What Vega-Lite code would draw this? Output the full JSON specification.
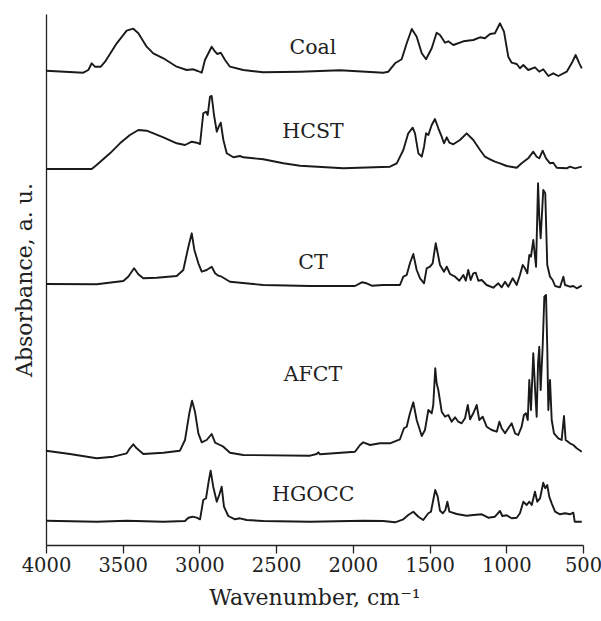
{
  "$schema": "https://vega.github.io/schema/vega-lite/v6.json",
  "width": 537,
  "height": 531,
  "autosize": {"type": "none"},
  "padding": {"left": 46, "top": 14, "right": 18, "bottom": 76},
  "background": "white",
  "config": {
    "view": {"stroke": null},
    "font": "DejaVu Serif",
    "axis": {"grid": false, "domainColor": "#222", "domainWidth": 1.3, "tickColor": "#222", "labelColor": "#222", "titleColor": "#222", "labelFont": "DejaVu Serif", "titleFont": "DejaVu Serif", "titleFontWeight": "normal"}
  },
  "datasets": {
    "spectra": [
      {"s":"Coal","wn":4000,"v":474.3},{"s":"Coal","wn":3757,"v":472.3},{"s":"Coal","wn":3724,"v":475},{"s":"Coal","wn":3702,"v":481.7},{"s":"Coal","wn":3681,"v":478.3},{"s":"Coal","wn":3643,"v":478.3},{"s":"Coal","wn":3615,"v":483.3},{"s":"Coal","wn":3539,"v":501.7},{"s":"Coal","wn":3474,"v":514.3},{"s":"Coal","wn":3431,"v":516.3},{"s":"Coal","wn":3398,"v":511.7},{"s":"Coal","wn":3344,"v":498.3},{"s":"Coal","wn":3301,"v":491.7},{"s":"Coal","wn":3235,"v":486.7},{"s":"Coal","wn":3148,"v":478.3},{"s":"Coal","wn":3083,"v":475},{"s":"Coal","wn":3040,"v":475.7},{"s":"Coal","wn":3011,"v":474},{"s":"Coal","wn":2985,"v":472.3},{"s":"Coal","wn":2964,"v":485},{"s":"Coal","wn":2920,"v":498.3},{"s":"Coal","wn":2898,"v":493.3},{"s":"Coal","wn":2883,"v":491},{"s":"Coal","wn":2861,"v":492.3},{"s":"Coal","wn":2833,"v":485},{"s":"Coal","wn":2801,"v":478.3},{"s":"Coal","wn":2714,"v":475},{"s":"Coal","wn":2584,"v":472.7},{"s":"Coal","wn":2344,"v":473.3},{"s":"Coal","wn":2084,"v":474.7},{"s":"Coal","wn":1802,"v":472.3},{"s":"Coal","wn":1769,"v":473.3},{"s":"Coal","wn":1725,"v":481.7},{"s":"Coal","wn":1682,"v":485.7},{"s":"Coal","wn":1649,"v":501.7},{"s":"Coal","wn":1616,"v":516},{"s":"Coal","wn":1584,"v":508.3},{"s":"Coal","wn":1551,"v":491.7},{"s":"Coal","wn":1523,"v":485.7},{"s":"Coal","wn":1486,"v":496.7},{"s":"Coal","wn":1454,"v":512.3},{"s":"Coal","wn":1432,"v":510},{"s":"Coal","wn":1399,"v":502.3},{"s":"Coal","wn":1378,"v":503.7},{"s":"Coal","wn":1345,"v":500},{"s":"Coal","wn":1280,"v":503.7},{"s":"Coal","wn":1215,"v":505},{"s":"Coal","wn":1171,"v":507.7},{"s":"Coal","wn":1139,"v":506.7},{"s":"Coal","wn":1106,"v":511},{"s":"Coal","wn":1074,"v":511.7},{"s":"Coal","wn":1041,"v":521.7},{"s":"Coal","wn":1015,"v":513.3},{"s":"Coal","wn":987,"v":488.3},{"s":"Coal","wn":965,"v":482.3},{"s":"Coal","wn":932,"v":481},{"s":"Coal","wn":911,"v":476.7},{"s":"Coal","wn":889,"v":480},{"s":"Coal","wn":857,"v":475},{"s":"Coal","wn":813,"v":477.7},{"s":"Coal","wn":785,"v":473.3},{"s":"Coal","wn":759,"v":475.7},{"s":"Coal","wn":726,"v":469},{"s":"Coal","wn":694,"v":471.7},{"s":"Coal","wn":661,"v":469},{"s":"Coal","wn":606,"v":473.3},{"s":"Coal","wn":574,"v":481.7},{"s":"Coal","wn":548,"v":490},{"s":"Coal","wn":524,"v":481.7},{"s":"Coal","wn":508,"v":476.7},

      {"s":"HCST","wn":4000,"v":376},{"s":"HCST","wn":3702,"v":376},{"s":"HCST","wn":3670,"v":380},{"s":"HCST","wn":3583,"v":391.7},{"s":"HCST","wn":3518,"v":401.7},{"s":"HCST","wn":3453,"v":410},{"s":"HCST","wn":3398,"v":415},{"s":"HCST","wn":3344,"v":414.3},{"s":"HCST","wn":3235,"v":407.7},{"s":"HCST","wn":3148,"v":401.7},{"s":"HCST","wn":3094,"v":400},{"s":"HCST","wn":3050,"v":403.3},{"s":"HCST","wn":3018,"v":402.3},{"s":"HCST","wn":2996,"v":401},{"s":"HCST","wn":2975,"v":431.7},{"s":"HCST","wn":2957,"v":433.3},{"s":"HCST","wn":2946,"v":430},{"s":"HCST","wn":2931,"v":448.3},{"s":"HCST","wn":2920,"v":449},{"s":"HCST","wn":2905,"v":430},{"s":"HCST","wn":2887,"v":413.3},{"s":"HCST","wn":2874,"v":418.3},{"s":"HCST","wn":2861,"v":422.3},{"s":"HCST","wn":2844,"v":405},{"s":"HCST","wn":2822,"v":391.7},{"s":"HCST","wn":2779,"v":387.7},{"s":"HCST","wn":2736,"v":389},{"s":"HCST","wn":2714,"v":387.7},{"s":"HCST","wn":2584,"v":385.7},{"s":"HCST","wn":2453,"v":381.7},{"s":"HCST","wn":2344,"v":379.3},{"s":"HCST","wn":2062,"v":376.7},{"s":"HCST","wn":1758,"v":378.3},{"s":"HCST","wn":1714,"v":381.7},{"s":"HCST","wn":1671,"v":395},{"s":"HCST","wn":1639,"v":411.7},{"s":"HCST","wn":1610,"v":417.3},{"s":"HCST","wn":1595,"v":411.7},{"s":"HCST","wn":1573,"v":391.7},{"s":"HCST","wn":1551,"v":388.3},{"s":"HCST","wn":1536,"v":398.3},{"s":"HCST","wn":1523,"v":411.7},{"s":"HCST","wn":1508,"v":410},{"s":"HCST","wn":1486,"v":420},{"s":"HCST","wn":1465,"v":426},{"s":"HCST","wn":1443,"v":416.7},{"s":"HCST","wn":1421,"v":408.3},{"s":"HCST","wn":1406,"v":401.7},{"s":"HCST","wn":1388,"v":407.7},{"s":"HCST","wn":1371,"v":402.3},{"s":"HCST","wn":1345,"v":400.7},{"s":"HCST","wn":1302,"v":405},{"s":"HCST","wn":1258,"v":411.7},{"s":"HCST","wn":1215,"v":405},{"s":"HCST","wn":1171,"v":395},{"s":"HCST","wn":1139,"v":388.3},{"s":"HCST","wn":1106,"v":385.7},{"s":"HCST","wn":1074,"v":383.3},{"s":"HCST","wn":1041,"v":381.7},{"s":"HCST","wn":997,"v":379},{"s":"HCST","wn":932,"v":377.3},{"s":"HCST","wn":900,"v":381.7},{"s":"HCST","wn":857,"v":386.7},{"s":"HCST","wn":824,"v":393.3},{"s":"HCST","wn":802,"v":388.3},{"s":"HCST","wn":785,"v":386.7},{"s":"HCST","wn":763,"v":394.3},{"s":"HCST","wn":741,"v":386.7},{"s":"HCST","wn":715,"v":381.7},{"s":"HCST","wn":694,"v":382.3},{"s":"HCST","wn":671,"v":377.3},{"s":"HCST","wn":606,"v":376.7},{"s":"HCST","wn":585,"v":378.3},{"s":"HCST","wn":552,"v":376.7},{"s":"HCST","wn":508,"v":378.3},

      {"s":"CT","wn":4000,"v":261},{"s":"CT","wn":3670,"v":260.7},{"s":"CT","wn":3496,"v":264},{"s":"CT","wn":3464,"v":268.3},{"s":"CT","wn":3426,"v":276.7},{"s":"CT","wn":3398,"v":270.7},{"s":"CT","wn":3366,"v":266.7},{"s":"CT","wn":3278,"v":267.3},{"s":"CT","wn":3148,"v":269},{"s":"CT","wn":3105,"v":275},{"s":"CT","wn":3072,"v":298.3},{"s":"CT","wn":3050,"v":311.7},{"s":"CT","wn":3033,"v":295},{"s":"CT","wn":3007,"v":281.7},{"s":"CT","wn":2985,"v":273.3},{"s":"CT","wn":2953,"v":275},{"s":"CT","wn":2920,"v":278.3},{"s":"CT","wn":2898,"v":271.7},{"s":"CT","wn":2877,"v":269.3},{"s":"CT","wn":2855,"v":268.3},{"s":"CT","wn":2801,"v":263.3},{"s":"CT","wn":2584,"v":260},{"s":"CT","wn":2279,"v":259},{"s":"CT","wn":1986,"v":259},{"s":"CT","wn":1942,"v":262.7},{"s":"CT","wn":1910,"v":261.7},{"s":"CT","wn":1877,"v":259.3},{"s":"CT","wn":1802,"v":260},{"s":"CT","wn":1693,"v":260},{"s":"CT","wn":1671,"v":268.3},{"s":"CT","wn":1649,"v":270},{"s":"CT","wn":1628,"v":281.7},{"s":"CT","wn":1606,"v":291},{"s":"CT","wn":1584,"v":275},{"s":"CT","wn":1562,"v":266.7},{"s":"CT","wn":1536,"v":261.7},{"s":"CT","wn":1519,"v":276.7},{"s":"CT","wn":1497,"v":278.3},{"s":"CT","wn":1480,"v":281.7},{"s":"CT","wn":1460,"v":301.7},{"s":"CT","wn":1447,"v":291.7},{"s":"CT","wn":1432,"v":280},{"s":"CT","wn":1406,"v":273.3},{"s":"CT","wn":1388,"v":278.3},{"s":"CT","wn":1367,"v":271},{"s":"CT","wn":1334,"v":268.3},{"s":"CT","wn":1306,"v":264.3},{"s":"CT","wn":1280,"v":270},{"s":"CT","wn":1264,"v":264.3},{"s":"CT","wn":1248,"v":275},{"s":"CT","wn":1232,"v":265},{"s":"CT","wn":1215,"v":271.7},{"s":"CT","wn":1199,"v":272.3},{"s":"CT","wn":1182,"v":264.3},{"s":"CT","wn":1160,"v":265},{"s":"CT","wn":1128,"v":260},{"s":"CT","wn":1085,"v":257.3},{"s":"CT","wn":1052,"v":261.7},{"s":"CT","wn":1030,"v":257.7},{"s":"CT","wn":1008,"v":263.3},{"s":"CT","wn":987,"v":258.3},{"s":"CT","wn":958,"v":266.7},{"s":"CT","wn":932,"v":260},{"s":"CT","wn":911,"v":270},{"s":"CT","wn":893,"v":280},{"s":"CT","wn":878,"v":276.7},{"s":"CT","wn":863,"v":271.7},{"s":"CT","wn":850,"v":290},{"s":"CT","wn":839,"v":288.3},{"s":"CT","wn":824,"v":305},{"s":"CT","wn":806,"v":278.3},{"s":"CT","wn":793,"v":361.7},{"s":"CT","wn":785,"v":328.3},{"s":"CT","wn":776,"v":306.7},{"s":"CT","wn":759,"v":355},{"s":"CT","wn":746,"v":351.7},{"s":"CT","wn":733,"v":280},{"s":"CT","wn":715,"v":268.3},{"s":"CT","wn":698,"v":265},{"s":"CT","wn":682,"v":259},{"s":"CT","wn":650,"v":257.7},{"s":"CT","wn":628,"v":268.3},{"s":"CT","wn":617,"v":260},{"s":"CT","wn":585,"v":258.3},{"s":"CT","wn":563,"v":259},{"s":"CT","wn":541,"v":256.7},{"s":"CT","wn":508,"v":259.3},

      {"s":"AFCT","wn":4000,"v":94.3},{"s":"AFCT","wn":3844,"v":91},{"s":"AFCT","wn":3670,"v":86.7},{"s":"AFCT","wn":3561,"v":88.3},{"s":"AFCT","wn":3474,"v":91.7},{"s":"AFCT","wn":3453,"v":96.7},{"s":"AFCT","wn":3431,"v":100.7},{"s":"AFCT","wn":3409,"v":96.7},{"s":"AFCT","wn":3366,"v":91},{"s":"AFCT","wn":3235,"v":92.3},{"s":"AFCT","wn":3127,"v":94.3},{"s":"AFCT","wn":3094,"v":105},{"s":"AFCT","wn":3066,"v":131.7},{"s":"AFCT","wn":3048,"v":144.3},{"s":"AFCT","wn":3029,"v":133.3},{"s":"AFCT","wn":3007,"v":111.7},{"s":"AFCT","wn":2985,"v":102.7},{"s":"AFCT","wn":2953,"v":105},{"s":"AFCT","wn":2920,"v":111},{"s":"AFCT","wn":2898,"v":102.3},{"s":"AFCT","wn":2866,"v":100},{"s":"AFCT","wn":2844,"v":98.3},{"s":"AFCT","wn":2801,"v":92.3},{"s":"AFCT","wn":2714,"v":90},{"s":"AFCT","wn":2279,"v":89.3},{"s":"AFCT","wn":2236,"v":91},{"s":"AFCT","wn":2225,"v":92.7},{"s":"AFCT","wn":2214,"v":90.7},{"s":"AFCT","wn":1986,"v":93.3},{"s":"AFCT","wn":1953,"v":100},{"s":"AFCT","wn":1932,"v":102.7},{"s":"AFCT","wn":1888,"v":100},{"s":"AFCT","wn":1823,"v":101.7},{"s":"AFCT","wn":1758,"v":101.7},{"s":"AFCT","wn":1693,"v":105.7},{"s":"AFCT","wn":1667,"v":116.7},{"s":"AFCT","wn":1649,"v":118.3},{"s":"AFCT","wn":1628,"v":131.7},{"s":"AFCT","wn":1606,"v":142.7},{"s":"AFCT","wn":1584,"v":125},{"s":"AFCT","wn":1551,"v":109},{"s":"AFCT","wn":1530,"v":115},{"s":"AFCT","wn":1508,"v":135},{"s":"AFCT","wn":1486,"v":131.7},{"s":"AFCT","wn":1476,"v":140},{"s":"AFCT","wn":1463,"v":176.7},{"s":"AFCT","wn":1454,"v":161.7},{"s":"AFCT","wn":1443,"v":155},{"s":"AFCT","wn":1421,"v":133.3},{"s":"AFCT","wn":1399,"v":128.3},{"s":"AFCT","wn":1378,"v":130},{"s":"AFCT","wn":1356,"v":123.3},{"s":"AFCT","wn":1334,"v":127.7},{"s":"AFCT","wn":1313,"v":123.3},{"s":"AFCT","wn":1291,"v":121.7},{"s":"AFCT","wn":1269,"v":126.7},{"s":"AFCT","wn":1251,"v":140},{"s":"AFCT","wn":1236,"v":125.7},{"s":"AFCT","wn":1215,"v":131.7},{"s":"AFCT","wn":1193,"v":140},{"s":"AFCT","wn":1176,"v":125},{"s":"AFCT","wn":1154,"v":128.3},{"s":"AFCT","wn":1128,"v":118.3},{"s":"AFCT","wn":1095,"v":115},{"s":"AFCT","wn":1062,"v":113.3},{"s":"AFCT","wn":1045,"v":123.3},{"s":"AFCT","wn":1030,"v":116.7},{"s":"AFCT","wn":1008,"v":111.7},{"s":"AFCT","wn":987,"v":116.7},{"s":"AFCT","wn":965,"v":121.7},{"s":"AFCT","wn":943,"v":111.7},{"s":"AFCT","wn":922,"v":110},{"s":"AFCT","wn":900,"v":118.3},{"s":"AFCT","wn":885,"v":130},{"s":"AFCT","wn":872,"v":131.7},{"s":"AFCT","wn":860,"v":125},{"s":"AFCT","wn":850,"v":165},{"s":"AFCT","wn":839,"v":135},{"s":"AFCT","wn":824,"v":191.7},{"s":"AFCT","wn":811,"v":151.7},{"s":"AFCT","wn":802,"v":128.3},{"s":"AFCT","wn":793,"v":181.7},{"s":"AFCT","wn":785,"v":198.3},{"s":"AFCT","wn":776,"v":155},{"s":"AFCT","wn":763,"v":198.3},{"s":"AFCT","wn":752,"v":248.3},{"s":"AFCT","wn":741,"v":250},{"s":"AFCT","wn":733,"v":198.3},{"s":"AFCT","wn":726,"v":135},{"s":"AFCT","wn":715,"v":165},{"s":"AFCT","wn":704,"v":125},{"s":"AFCT","wn":689,"v":111.7},{"s":"AFCT","wn":661,"v":106.7},{"s":"AFCT","wn":639,"v":105},{"s":"AFCT","wn":624,"v":129},{"s":"AFCT","wn":613,"v":105},{"s":"AFCT","wn":585,"v":101.7},{"s":"AFCT","wn":563,"v":100},{"s":"AFCT","wn":541,"v":96.7},{"s":"AFCT","wn":508,"v":93.3},

      {"s":"HGOCC","wn":4000,"v":24.3},{"s":"HGOCC","wn":3670,"v":23.3},{"s":"HGOCC","wn":3474,"v":24.3},{"s":"HGOCC","wn":3235,"v":23.3},{"s":"HGOCC","wn":3094,"v":24},{"s":"HGOCC","wn":3072,"v":27.3},{"s":"HGOCC","wn":3044,"v":28.3},{"s":"HGOCC","wn":3018,"v":27.3},{"s":"HGOCC","wn":2996,"v":25.7},{"s":"HGOCC","wn":2975,"v":45},{"s":"HGOCC","wn":2957,"v":46.7},{"s":"HGOCC","wn":2940,"v":63.3},{"s":"HGOCC","wn":2927,"v":74.3},{"s":"HGOCC","wn":2910,"v":58.3},{"s":"HGOCC","wn":2887,"v":43.3},{"s":"HGOCC","wn":2871,"v":50},{"s":"HGOCC","wn":2855,"v":58.3},{"s":"HGOCC","wn":2840,"v":38.3},{"s":"HGOCC","wn":2812,"v":29},{"s":"HGOCC","wn":2768,"v":25.7},{"s":"HGOCC","wn":2736,"v":26.7},{"s":"HGOCC","wn":2692,"v":25},{"s":"HGOCC","wn":2584,"v":24},{"s":"HGOCC","wn":2279,"v":23.3},{"s":"HGOCC","wn":1932,"v":24.3},{"s":"HGOCC","wn":1802,"v":24},{"s":"HGOCC","wn":1725,"v":22.7},{"s":"HGOCC","wn":1671,"v":25.7},{"s":"HGOCC","wn":1639,"v":30},{"s":"HGOCC","wn":1606,"v":33.3},{"s":"HGOCC","wn":1573,"v":28.3},{"s":"HGOCC","wn":1541,"v":25},{"s":"HGOCC","wn":1508,"v":31.7},{"s":"HGOCC","wn":1491,"v":33.3},{"s":"HGOCC","wn":1476,"v":45},{"s":"HGOCC","wn":1463,"v":55},{"s":"HGOCC","wn":1447,"v":48.3},{"s":"HGOCC","wn":1432,"v":34.3},{"s":"HGOCC","wn":1414,"v":31.7},{"s":"HGOCC","wn":1397,"v":35},{"s":"HGOCC","wn":1384,"v":43.3},{"s":"HGOCC","wn":1371,"v":33.3},{"s":"HGOCC","wn":1323,"v":31},{"s":"HGOCC","wn":1258,"v":29.3},{"s":"HGOCC","wn":1215,"v":30},{"s":"HGOCC","wn":1160,"v":30.7},{"s":"HGOCC","wn":1117,"v":27.3},{"s":"HGOCC","wn":1074,"v":28.3},{"s":"HGOCC","wn":1041,"v":34},{"s":"HGOCC","wn":1026,"v":29},{"s":"HGOCC","wn":997,"v":29.7},{"s":"HGOCC","wn":965,"v":26.7},{"s":"HGOCC","wn":932,"v":27.3},{"s":"HGOCC","wn":911,"v":31.7},{"s":"HGOCC","wn":889,"v":43.3},{"s":"HGOCC","wn":867,"v":40},{"s":"HGOCC","wn":850,"v":43.3},{"s":"HGOCC","wn":834,"v":40},{"s":"HGOCC","wn":813,"v":53.3},{"s":"HGOCC","wn":798,"v":43.3},{"s":"HGOCC","wn":780,"v":46.7},{"s":"HGOCC","wn":759,"v":62.3},{"s":"HGOCC","wn":746,"v":56.7},{"s":"HGOCC","wn":733,"v":60},{"s":"HGOCC","wn":720,"v":48.3},{"s":"HGOCC","wn":704,"v":41.7},{"s":"HGOCC","wn":682,"v":33.3},{"s":"HGOCC","wn":650,"v":30.7},{"s":"HGOCC","wn":617,"v":31.7},{"s":"HGOCC","wn":585,"v":30.7},{"s":"HGOCC","wn":563,"v":32.3},{"s":"HGOCC","wn":554,"v":23.3},{"s":"HGOCC","wn":508,"v":23.3}
    ],
    "labels": [
      {"label":"Coal","wn":2260,"v":497},
      {"label":"HCST","wn":2260,"v":413},
      {"label":"CT","wn":2260,"v":282},
      {"label":"AFCT","wn":2260,"v":170},
      {"label":"HGOCC","wn":2258,"v":50}
    ]
  },
  "layer": [
    {
      "data": {"name": "spectra"},
      "mark": {"type": "line", "color": "#1a1a1a", "strokeWidth": 1.9, "strokeJoin": "round", "interpolate": "linear"},
      "encoding": {
        "x": {"field": "wn", "type": "quantitative",
              "scale": {"domain": [500, 4000], "reverse": true, "nice": false, "zero": false},
              "axis": {"values": [4000, 3500, 3000, 2500, 2000, 1500, 1000, 500], "format": "d", "tickSize": 8, "tickWidth": 1.3, "labelFontSize": 19.5, "labelPadding": 3, "title": "Wavenumber, cm⁻¹", "titleFontSize": 22, "titlePadding": 13, "labelFlush": false}},
        "y": {"field": "v", "type": "quantitative",
              "scale": {"domain": [0, 531], "nice": false},
              "axis": {"ticks": false, "labels": false, "title": "Absorbance, a. u.", "titleFontSize": 22, "titlePadding": 10}},
        "detail": {"field": "s"}
      }
    },
    {
      "data": {"name": "labels"},
      "mark": {"type": "text", "font": "DejaVu Serif", "fontSize": 20.5, "color": "#222", "align": "center", "baseline": "middle"},
      "encoding": {
        "x": {"field": "wn", "type": "quantitative"},
        "y": {"field": "v", "type": "quantitative"},
        "text": {"field": "label"}
      }
    }
  ]
}
